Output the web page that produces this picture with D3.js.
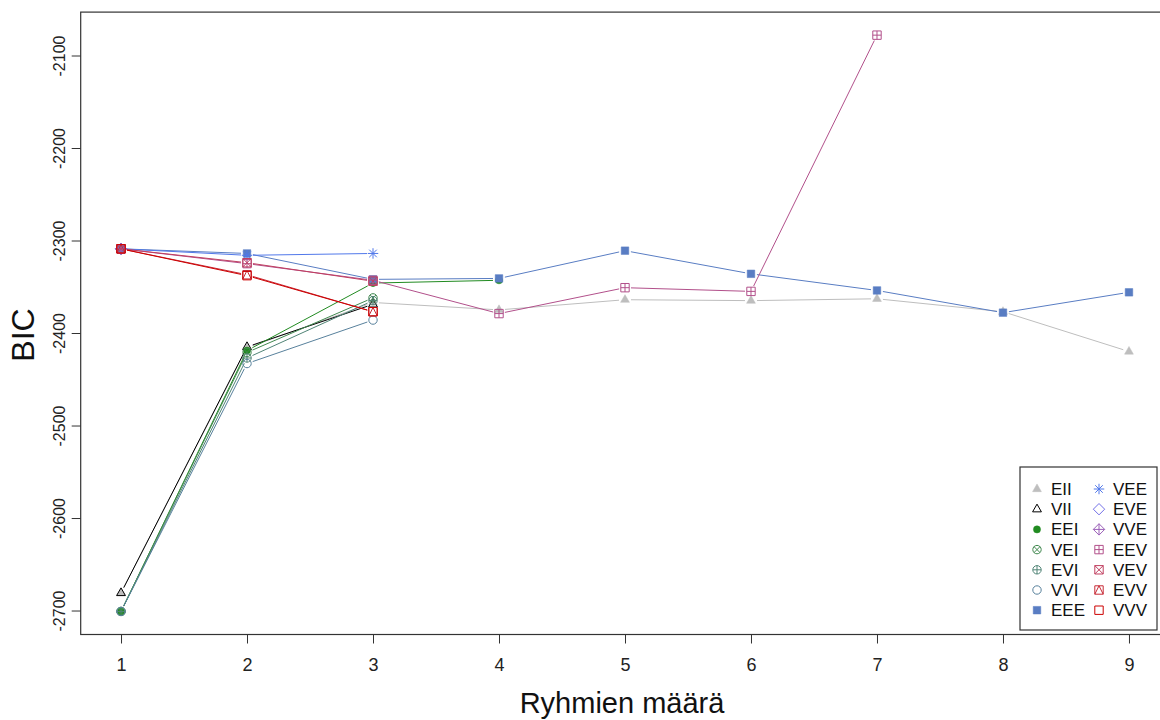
<!DOCTYPE html>
<html>
<head>
<meta charset="utf-8">
<script src="https://cdn.jsdelivr.net/npm/d3@7"></script>
<style>
  body { margin: 0; background: #fff; }
  svg { display: block; font-family: "Liberation Sans", Arial, sans-serif; }
</style>
</head>
<body>
<svg id="chart" width="1160" height="720"></svg>
<script>
// number of clusters 1..9
const groups = [1, 2, 3, 4, 5, 6, 7, 8, 9];

// BIC per model, null = not fitted
const EII = [-2681, -2416, -2367, -2375, -2364, -2365, -2363, -2377, -2420];
const VII = [-2681, -2415, -2369, null, null, null, null, null, null];
const EEI = [-2701, -2419, -2346, -2343, null, null, null, null, null];
const VEI = [-2701, -2421, -2362, null, null, null, null, null, null];
const EVI = [-2701, -2427, -2365, null, null, null, null, null, null];
const VVI = [-2701, -2433, -2386, null, null, null, null, null, null];
const EEE = [-2309, -2314, -2342, -2341, -2311, -2336, -2354, -2378, -2356];
const VEE = [-2309, -2316, -2314, null, null, null, null, null, null];
const EVE = [-2309, null, null, null, null, null, null, null, null];
const VVE = [-2309, null, null, null, null, null, null, null, null];
const EEV = [-2309, -2325, -2343, -2379, -2351, -2355, -2078, null, null];
const VEV = [-2309, -2324, -2344, null, null, null, null, null, null];
const EVV = [-2309, -2337, -2377, null, null, null, null, null, null];
const VVV = [-2309, -2338, -2377, null, null, null, null, null, null];

const modelNames = ["EII", "VII", "EEI", "VEI", "EVI", "VVI", "EEE",
                    "VEE", "EVE", "VVE", "EEV", "VEV", "EVV", "VVV"];
const modelValues = [EII, VII, EEI, VEI, EVI, VVI, EEE, VEE, EVE, VVE, EEV, VEV, EVV, VVV];
const modelColors = ["#bebebe", "#000000", "#218B21", "#41884F", "#508476", "#58819C", "#597DC3",
                     "#5178EA", "#716EE7", "#9B60B8", "#B2508B", "#C03F60", "#C82A36", "#CC0000"];
const modelPch = [17, 2, 16, 13, 10, 1, 15, 8, 5, 9, 12, 7, 14, 0];

const yTicks = [-2700, -2600, -2500, -2400, -2300, -2200, -2100];
const xLabel = "Ryhmien määrä";
const yLabel = "BIC";

const svg = d3.select("#chart");

// R style 4% padding around the data range
const allVals = modelValues.flat().filter(v => v !== null);
const [ymin, ymax] = d3.extent(allVals);
const ypad = (ymax - ymin) * 0.04;
const xpad = (d3.max(groups) - d3.min(groups)) * 0.04;

const x = d3.scaleLinear()
  .domain([d3.min(groups) - xpad, d3.max(groups) + xpad])
  .range([80.7, 1169.3]);
const y = d3.scaleLinear()
  .domain([ymin - ypad, ymax + ypad])
  .range([634.5, 12.1]);

// plot box
svg.append("rect")
  .attr("x", x.range()[0]).attr("y", y.range()[1])
  .attr("width", x.range()[1] - x.range()[0])
  .attr("height", y.range()[0] - y.range()[1])
  .attr("fill", "none").attr("stroke", "#333").attr("stroke-width", 1.2);

// axes (R prints a plain hyphen for negatives)
const fmt = d => String(d);

const xAxis = svg.append("g")
  .attr("transform", `translate(0,${y.range()[0]})`)
  .call(d3.axisBottom(x).tickValues(groups).tickSize(9).tickSizeOuter(0).tickFormat(fmt));
xAxis.select(".domain").remove();
xAxis.selectAll("line").attr("stroke", "#333");
xAxis.selectAll("text")
  .attr("y", 36).attr("dy", 0)
  .attr("font-size", 18).attr("fill", "#222")
  .style("font-family", "Liberation Sans, Arial, sans-serif");

const yAxis = svg.append("g")
  .attr("transform", `translate(${x.range()[0]},0)`)
  .call(d3.axisLeft(y).tickValues(yTicks).tickSize(9).tickSizeOuter(0).tickFormat(fmt));
yAxis.select(".domain").remove();
yAxis.selectAll("line").attr("stroke", "#333");
yAxis.selectAll("text")
  .attr("x", 0).attr("dy", 0)
  .attr("text-anchor", "middle")
  .attr("font-size", 16).attr("fill", "#222")
  .attr("transform", "translate(-16,0) rotate(-90)")
  .style("font-family", "Liberation Sans, Arial, sans-serif");

// axis titles
svg.append("text")
  .attr("x", 622).attr("y", 713)
  .attr("text-anchor", "middle")
  .attr("font-size", 29).attr("fill", "#111")
  .text(xLabel);
svg.append("text")
  .attr("transform", "translate(34,335) rotate(-90)")
  .attr("text-anchor", "middle")
  .attr("font-size", 32).attr("fill", "#111")
  .text(yLabel);

// R plotting symbols
function pchPath(pch, r) {
  const p = d3.path();
  const tri = (rr) => {
    p.moveTo(0, -rr * 1.15); p.lineTo(rr, rr * 0.6); p.lineTo(-rr, rr * 0.6); p.closePath();
  };
  const sq = () => { p.rect(-r, -r, 2 * r, 2 * r); };
  const circ = () => { p.moveTo(r, 0); p.arc(0, 0, r, 0, 2 * Math.PI); };
  const dia = () => {
    const d = r * 1.35;
    p.moveTo(0, -d); p.lineTo(d, 0); p.lineTo(0, d); p.lineTo(-d, 0); p.closePath();
  };
  const plus = (d) => { p.moveTo(-d, 0); p.lineTo(d, 0); p.moveTo(0, -d); p.lineTo(0, d); };
  const cross = (d) => { p.moveTo(-d, -d); p.lineTo(d, d); p.moveTo(-d, d); p.lineTo(d, -d); };
  switch (pch) {
    case 0: sq(); break;
    case 1: circ(); break;
    case 2: case 17: tri(r * 1.05); break;
    case 5: dia(); break;
    case 7: sq(); cross(r); break;
    case 8: plus(r * 1.25); cross(r * 0.9); break;
    case 9: dia(); plus(r * 1.35); break;
    case 10: circ(); plus(r); break;
    case 12: sq(); plus(r); break;
    case 13: circ(); cross(r * 0.71); break;
    case 14: sq(); p.moveTo(-r, r); p.lineTo(0, -r); p.lineTo(r, r); break;
    case 15: p.rect(-r * 0.9, -r * 0.9, r * 1.8, r * 1.8); break;
    case 16: p.moveTo(r * 0.85, 0); p.arc(0, 0, r * 0.85, 0, 2 * Math.PI); break;
  }
  return p.toString();
}
const filled = pch => pch === 15 || pch === 16 || pch === 17;

function drawSymbol(g, pch, color, cx, cy) {
  g.append("path")
    .attr("transform", `translate(${cx},${cy})`)
    .attr("d", pchPath(pch, 4.2))
    .attr("fill", filled(pch) ? color : "none")
    .attr("stroke", color)
    .attr("stroke-width", filled(pch) ? 0.5 : 1);
}

// type = "b": segments with gaps around the points
const gap = 6;
const plot = svg.append("g");
modelNames.forEach((name, m) => {
  const vals = modelValues[m];
  const color = modelColors[m];
  const g = plot.append("g").attr("class", "model-" + name);
  for (let i = 0; i < groups.length - 1; i++) {
    if (vals[i] === null || vals[i + 1] === null) continue;
    const x0 = x(groups[i]), y0 = y(vals[i]);
    const x1 = x(groups[i + 1]), y1 = y(vals[i + 1]);
    const len = Math.hypot(x1 - x0, y1 - y0);
    if (len <= 2 * gap) continue;
    const ux = (x1 - x0) / len, uy = (y1 - y0) / len;
    g.append("line")
      .attr("x1", x0 + ux * gap).attr("y1", y0 + uy * gap)
      .attr("x2", x1 - ux * gap).attr("y2", y1 - uy * gap)
      .attr("stroke", color).attr("stroke-width", 1);
  }
  vals.forEach((v, i) => {
    if (v === null) return;
    drawSymbol(g, modelPch[m], color, x(groups[i]), y(v));
  });
});

// legend, bottom right, two columns
const legend = svg.append("g").attr("transform", "translate(1020,467)");
legend.append("rect")
  .attr("width", 137).attr("height", 163)
  .attr("fill", "#fff").attr("stroke", "#333").attr("stroke-width", 1.2);
modelNames.forEach((name, m) => {
  const col = Math.floor(m / 7), row = m % 7;
  const ly = 22 + row * 20.2;
  const sx = col === 0 ? 17 : 79;
  drawSymbol(legend, modelPch[m], modelColors[m], sx, ly);
  legend.append("text")
    .attr("x", sx + 14).attr("y", ly + 6)
    .attr("font-size", 17).attr("fill", "#111")
    .text(name);
});
</script>
</body>
</html>
